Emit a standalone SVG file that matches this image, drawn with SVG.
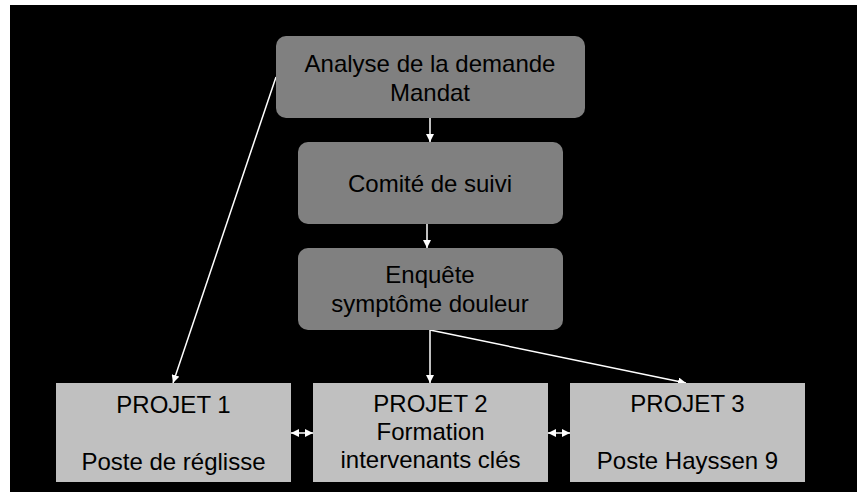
<svg xmlns="http://www.w3.org/2000/svg" width="857" height="492" viewBox="0 0 857 492">
<defs>
<style>
.top{fill:#808080;}
.bot{fill:#c0c0c0;}
text{font-family:"Liberation Sans",Arial,sans-serif;font-size:24px;fill:#000;text-anchor:middle;}
.c{stroke:#fff;stroke-width:1.5;fill:none;}
</style>
<marker id="ah" viewBox="0 0 10 10" refX="10" refY="5" markerWidth="8" markerHeight="8" markerUnits="userSpaceOnUse" orient="auto-start-reverse">
<path d="M0,0 L10,5 L0,10 Z" fill="#fff"/>
</marker>
</defs>
<rect x="0" y="0" width="857" height="492" fill="#fff"/>
<rect x="10" y="5" width="847" height="487" fill="#000"/>
<g id="connectors">
<line class="c" x1="430" y1="118" x2="430" y2="142" marker-end="url(#ah)"/>
<line class="c" x1="427" y1="224" x2="427" y2="248" marker-end="url(#ah)"/>
<line class="c" x1="430" y1="330" x2="430" y2="383" marker-end="url(#ah)"/>
<line class="c" x1="430" y1="330" x2="686" y2="383" marker-end="url(#ah)"/>
<line class="c" x1="276" y1="77" x2="173" y2="383" marker-end="url(#ah)"/>
<line class="c" x1="291" y1="433" x2="313" y2="433" marker-start="url(#ah)" marker-end="url(#ah)"/>
<line class="c" x1="548" y1="433" x2="570" y2="433" marker-start="url(#ah)" marker-end="url(#ah)"/>
</g>
<g id="analyse">
<rect class="top" x="276" y="36" width="309" height="82" rx="10"/>
<text x="430" y="72">Analyse de la demande</text>
<text x="430" y="101">Mandat</text>
</g>
<g id="comite">
<rect class="top" x="298" y="142" width="265" height="82" rx="10"/>
<text x="430" y="192">Comité de suivi</text>
</g>
<g id="enquete">
<rect class="top" x="298" y="248" width="265" height="82" rx="10"/>
<text x="430" y="283">Enquête</text>
<text x="430" y="312">symptôme douleur</text>
</g>
<g id="projet1">
<rect class="bot" x="56" y="383" width="235" height="99"/>
<text x="173.5" y="413">PROJET 1</text>
<text x="173.5" y="470">Poste de réglisse</text>
</g>
<g id="projet2">
<rect class="bot" x="313" y="383" width="235" height="99"/>
<text x="430.5" y="412">PROJET 2</text>
<text x="430.5" y="440">Formation</text>
<text x="430.5" y="468">intervenants clés</text>
</g>
<g id="projet3">
<rect class="bot" x="570" y="383" width="235" height="99"/>
<text x="687.5" y="412">PROJET 3</text>
<text x="687.5" y="469">Poste Hayssen 9</text>
</g>
</svg>
